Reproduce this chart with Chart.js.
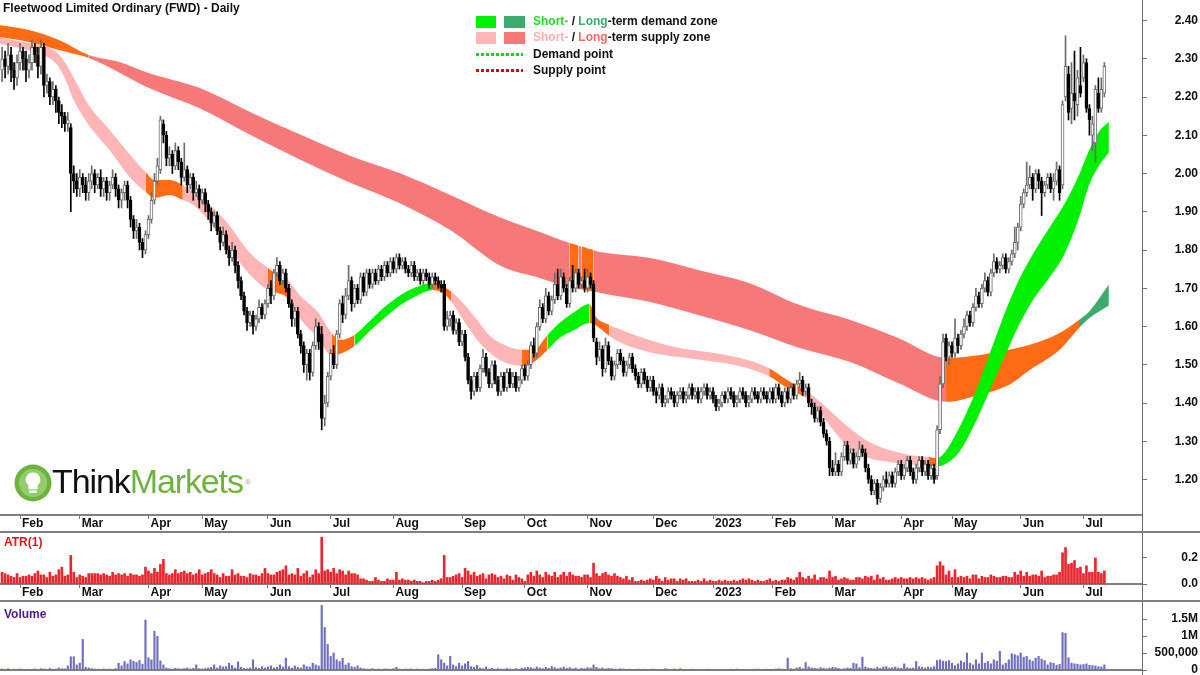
<!DOCTYPE html>
<html><head><meta charset="utf-8">
<script src="https://cdn.jsdelivr.net/npm/chart.js@4.4.1/dist/chart.umd.min.js"></script>
<style>
body{margin:0;background:#fff;width:1200px;height:675px;overflow:hidden;position:relative;font-family:"Liberation Sans",Arial,Helvetica,sans-serif}
canvas{position:absolute;left:0}
.t{position:absolute;font-weight:bold;font-size:12px;line-height:14px;white-space:nowrap;color:#111}
.sq{position:absolute;width:20px;height:12px}
.dot{position:absolute;left:476px;width:47px;height:3px}
</style></head><body>
<canvas id="cMain" width="1200" height="533" style="top:0"></canvas>
<canvas id="cAtr" width="1200" height="69" style="top:533px"></canvas>
<canvas id="cVol" width="1200" height="73" style="top:602px"></canvas>

<div class="t" style="left:3px;top:1px">Fleetwood Limited Ordinary (FWD) - Daily</div>

<div class="sq" style="left:476px;top:16px;background:#00F000"></div>
<div class="sq" style="left:504px;top:16px;width:21px;background:#3DAA6E"></div>
<div class="t" style="left:533px;top:14px"><span style="color:#2BD62B">Short-</span> / <span style="color:#3DAA6E">Long</span>-term demand zone</div>
<div class="sq" style="left:476px;top:32px;background:#FFB6B6"></div>
<div class="sq" style="left:504px;top:32px;width:21px;background:#F77777"></div>
<div class="t" style="left:533px;top:30px"><span style="color:#FFB0B0">Short-</span> / <span style="color:#F06A6A">Long</span>-term supply zone</div>
<div class="dot" style="top:53px;background:repeating-linear-gradient(90deg,#00E000 0 3px,transparent 3px 5px)"></div>
<div class="t" style="left:533px;top:47px">Demand point</div>
<div class="dot" style="top:69px;background:repeating-linear-gradient(90deg,#E00000 0 3px,transparent 3px 5px)"></div>
<div class="t" style="left:533px;top:63px">Supply point</div>

<div class="t" style="left:4px;top:535px;color:#E8101A">ATR(1)</div>
<div class="t" style="left:4px;top:607px;color:#4B1A8A">Volume</div>

<svg width="40" height="40" viewBox="0 0 40 40" style="position:absolute;left:13px;top:463px">
  <circle cx="20" cy="20" r="18.5" fill="#6DB33F"/>
  <circle cx="20" cy="20" r="14" fill="#93CC6A"/>
  <path d="M20 9.5a7.2 7.2 0 0 1 4.6 12.8v4h-9.2v-4A7.2 7.2 0 0 1 20 9.5z" fill="#fff"/>
  <rect x="16" y="27.5" width="8" height="2.5" rx="1" fill="#fff"/>
</svg>
<div style="position:absolute;left:52px;top:464px;font-size:34px;line-height:34px;letter-spacing:-1.1px;color:#111;white-space:nowrap">Think<span style="color:#6DB33F">Markets</span><span style="font-size:8px;vertical-align:top;color:#8aa;letter-spacing:0;position:relative;top:2px;left:2px">®</span></div>

<script>
// ---------- data ----------
const FIRST_DAY = -6; // trading-day index of the first candle (Feb 1 2022 = 0)
const opens = [
2.27,2.30,2.28,2.31,2.27,2.25,2.29,2.32,2.30,2.27,
2.29,2.33,2.31,2.28,2.33,2.23,2.24,2.20,2.22,2.19,
2.16,2.15,2.13,2.12,2.00,1.98,1.96,1.99,1.97,1.95,
1.98,2.00,1.97,1.99,1.96,1.98,1.95,1.97,1.99,1.96,
1.93,1.95,1.97,1.93,1.88,1.85,1.86,1.82,1.80,1.84,
1.88,1.93,1.98,2.01,2.13,2.10,2.04,2.05,2.02,2.06,
2.03,1.99,2.01,1.97,1.99,1.95,1.96,1.93,1.95,1.92,
1.90,1.87,1.89,1.85,1.82,1.84,1.80,1.78,1.80,1.76,
1.72,1.68,1.64,1.61,1.63,1.60,1.62,1.65,1.63,1.66,
1.70,1.68,1.74,1.76,1.72,1.74,1.70,1.66,1.62,1.64,
1.58,1.55,1.50,1.53,1.48,1.55,1.60,1.58,1.36,1.40,
1.47,1.53,1.50,1.58,1.66,1.63,1.68,1.72,1.66,1.70,
1.67,1.73,1.69,1.74,1.71,1.74,1.72,1.75,1.73,1.76,
1.74,1.77,1.75,1.78,1.76,1.77,1.75,1.74,1.76,1.73,
1.74,1.72,1.74,1.73,1.71,1.73,1.72,1.71,1.71,1.60,
1.62,1.63,1.59,1.61,1.56,1.58,1.52,1.46,1.43,1.47,
1.44,1.49,1.52,1.48,1.45,1.50,1.46,1.43,1.47,1.44,
1.48,1.45,1.47,1.44,1.46,1.49,1.47,1.50,1.55,1.53,
1.60,1.65,1.62,1.68,1.64,1.67,1.71,1.68,1.73,1.70,
1.66,1.72,1.70,1.74,1.71,1.72,1.70,1.73,1.71,1.56,
1.52,1.54,1.49,1.55,1.51,1.47,1.50,1.53,1.51,1.48,
1.50,1.52,1.49,1.47,1.45,1.48,1.46,1.44,1.46,1.43,
1.42,1.44,1.40,1.41,1.43,1.42,1.40,1.42,1.43,1.41,
1.42,1.44,1.42,1.43,1.41,1.43,1.44,1.42,1.43,1.41,
1.39,1.40,1.42,1.41,1.43,1.42,1.40,1.41,1.43,1.42,
1.40,1.41,1.43,1.42,1.41,1.43,1.42,1.41,1.43,1.41,
1.44,1.42,1.40,1.43,1.41,1.44,1.42,1.45,1.46,1.43,
1.44,1.40,1.39,1.36,1.38,1.35,1.32,1.30,1.23,1.22,
1.24,1.22,1.26,1.29,1.25,1.27,1.24,1.26,1.28,1.27,
1.23,1.20,1.17,1.19,1.15,1.18,1.20,1.19,1.21,1.19,
1.22,1.24,1.21,1.23,1.25,1.22,1.20,1.23,1.25,1.22,
1.24,1.21,1.23,1.21,1.33,1.45,1.57,1.52,1.55,1.53,
1.57,1.55,1.58,1.60,1.63,1.61,1.65,1.68,1.66,1.70,
1.72,1.69,1.74,1.77,1.75,1.76,1.78,1.75,1.77,1.79,
1.82,1.86,1.92,1.95,1.97,1.99,1.96,2.00,1.98,1.95,
1.97,1.99,1.96,1.98,2.01,1.97,2.20,2.26,2.17,2.21,
2.18,2.23,2.25,2.29,2.17,2.10,2.08,2.21,2.17,2.21];
const highs = [
2.33,2.32,2.34,2.33,2.29,2.31,2.34,2.33,2.32,2.31,
2.35,2.34,2.33,2.35,2.34,2.26,2.25,2.24,2.23,2.20,
2.18,2.16,2.16,2.13,2.02,2.00,2.01,2.00,1.99,2.00,
2.02,2.01,2.00,2.01,1.99,1.99,1.98,2.01,2.00,1.97,
1.96,1.98,1.98,1.94,1.89,1.88,1.87,1.83,1.85,1.89,
1.95,2.00,2.04,2.15,2.14,2.11,2.07,2.06,2.08,2.07,
2.04,2.08,2.02,2.00,2.00,1.98,1.97,1.96,1.96,1.93,
1.91,1.90,1.90,1.86,1.86,1.85,1.81,1.82,1.81,1.77,
1.73,1.69,1.65,1.64,1.64,1.63,1.67,1.66,1.67,1.71,
1.72,1.75,1.78,1.77,1.75,1.75,1.71,1.67,1.65,1.65,
1.59,1.56,1.54,1.54,1.56,1.62,1.61,1.60,1.42,1.48,
1.54,1.55,1.59,1.67,1.68,1.70,1.76,1.73,1.71,1.71,
1.74,1.74,1.75,1.75,1.75,1.75,1.76,1.76,1.77,1.77,
1.78,1.78,1.79,1.79,1.78,1.78,1.76,1.77,1.77,1.75,
1.75,1.75,1.75,1.74,1.74,1.74,1.73,1.72,1.72,1.64,
1.64,1.64,1.62,1.62,1.59,1.59,1.53,1.47,1.48,1.48,
1.50,1.54,1.53,1.49,1.51,1.51,1.47,1.48,1.48,1.49,
1.49,1.48,1.48,1.47,1.50,1.50,1.51,1.56,1.57,1.61,
1.67,1.66,1.70,1.69,1.68,1.74,1.75,1.75,1.74,1.71,
1.73,1.76,1.75,1.75,1.73,1.75,1.75,1.74,1.72,1.57,
1.56,1.55,1.57,1.56,1.52,1.51,1.54,1.54,1.52,1.51,
1.53,1.53,1.50,1.48,1.49,1.49,1.47,1.47,1.47,1.44,
1.45,1.45,1.42,1.44,1.44,1.43,1.43,1.44,1.44,1.43,
1.45,1.45,1.44,1.44,1.44,1.45,1.45,1.44,1.44,1.42,
1.41,1.43,1.43,1.44,1.44,1.43,1.42,1.44,1.44,1.43,
1.42,1.44,1.44,1.43,1.44,1.44,1.43,1.44,1.44,1.45,
1.45,1.43,1.44,1.44,1.45,1.45,1.46,1.48,1.47,1.45,
1.45,1.41,1.40,1.39,1.39,1.36,1.33,1.31,1.25,1.27,
1.25,1.27,1.30,1.30,1.28,1.28,1.27,1.30,1.29,1.28,
1.24,1.21,1.20,1.20,1.19,1.21,1.22,1.22,1.22,1.23,
1.25,1.25,1.24,1.26,1.26,1.23,1.24,1.26,1.26,1.25,
1.25,1.24,1.24,1.34,1.47,1.58,1.58,1.56,1.56,1.62,
1.58,1.59,1.62,1.64,1.64,1.66,1.70,1.69,1.71,1.74,
1.73,1.75,1.79,1.78,1.77,1.79,1.79,1.78,1.80,1.86,
1.87,1.94,1.96,2.03,2.02,2.00,2.01,2.01,1.99,1.98,
2.00,2.00,2.00,2.03,2.02,2.19,2.36,2.28,2.29,2.32,
2.27,2.33,2.31,2.30,2.18,2.15,2.23,2.25,2.25,2.29];
const lows = [
2.24,2.25,2.26,2.24,2.22,2.23,2.27,2.27,2.24,2.25,
2.27,2.29,2.25,2.26,2.20,2.21,2.18,2.18,2.16,2.13,
2.12,2.11,2.11,1.90,1.95,1.94,1.94,1.95,1.93,1.93,
1.96,1.95,1.96,1.94,1.94,1.93,1.93,1.96,1.94,1.91,
1.91,1.93,1.91,1.86,1.83,1.83,1.80,1.78,1.79,1.83,
1.87,1.92,1.97,2.00,2.08,2.02,2.02,2.00,2.01,2.01,
1.97,1.98,1.95,1.96,1.93,1.94,1.91,1.92,1.90,1.88,
1.85,1.86,1.84,1.80,1.81,1.79,1.76,1.77,1.74,1.70,
1.67,1.63,1.59,1.60,1.58,1.59,1.61,1.62,1.62,1.65,
1.66,1.67,1.73,1.71,1.71,1.69,1.65,1.60,1.60,1.57,
1.53,1.48,1.46,1.46,1.47,1.54,1.54,1.33,1.34,1.39,
1.46,1.49,1.49,1.57,1.61,1.62,1.67,1.64,1.65,1.66,
1.66,1.68,1.68,1.70,1.70,1.71,1.71,1.72,1.72,1.73,
1.73,1.74,1.74,1.75,1.75,1.74,1.73,1.73,1.72,1.72,
1.71,1.71,1.72,1.70,1.70,1.71,1.70,1.69,1.59,1.59,
1.60,1.58,1.58,1.55,1.55,1.51,1.45,1.41,1.42,1.43,
1.43,1.48,1.47,1.44,1.44,1.45,1.42,1.42,1.43,1.43,
1.44,1.44,1.43,1.43,1.45,1.46,1.46,1.49,1.52,1.52,
1.59,1.61,1.61,1.63,1.63,1.66,1.67,1.67,1.69,1.65,
1.65,1.69,1.69,1.70,1.70,1.69,1.69,1.70,1.56,1.50,
1.51,1.47,1.48,1.50,1.46,1.46,1.49,1.50,1.47,1.47,
1.49,1.48,1.46,1.44,1.44,1.45,1.43,1.43,1.42,1.40,
1.41,1.39,1.39,1.40,1.41,1.39,1.39,1.41,1.40,1.40,
1.41,1.41,1.41,1.40,1.40,1.42,1.41,1.41,1.40,1.38,
1.38,1.39,1.40,1.40,1.41,1.39,1.39,1.40,1.41,1.39,
1.39,1.40,1.41,1.40,1.40,1.41,1.40,1.40,1.40,1.40,
1.41,1.39,1.39,1.40,1.40,1.41,1.41,1.44,1.42,1.42,
1.39,1.37,1.35,1.35,1.34,1.31,1.29,1.21,1.21,1.21,
1.21,1.21,1.25,1.24,1.24,1.23,1.23,1.25,1.26,1.22,
1.19,1.16,1.16,1.135,1.14,1.17,1.18,1.18,1.18,1.18,
1.21,1.20,1.20,1.22,1.21,1.19,1.19,1.22,1.21,1.21,
1.20,1.20,1.19,1.20,1.32,1.44,1.51,1.50,1.52,1.52,
1.53,1.54,1.57,1.59,1.60,1.60,1.64,1.65,1.65,1.69,
1.68,1.68,1.73,1.74,1.74,1.75,1.74,1.74,1.76,1.78,
1.80,1.85,1.91,1.94,1.96,1.93,1.95,1.96,1.89,1.94,
1.96,1.95,1.93,1.97,1.93,1.96,2.19,2.14,2.13,2.14,
2.15,2.20,2.24,2.16,2.10,2.06,2.03,2.16,2.16,2.20];
const closes = [
2.30,2.28,2.31,2.27,2.25,2.29,2.32,2.30,2.27,2.29,
2.33,2.31,2.28,2.33,2.23,2.24,2.20,2.22,2.19,2.16,
2.15,2.13,2.14,2.00,1.98,1.96,1.99,1.97,1.95,1.98,
2.00,1.97,1.99,1.96,1.98,1.95,1.97,1.99,1.96,1.93,
1.95,1.97,1.93,1.88,1.85,1.86,1.82,1.80,1.84,1.88,
1.93,1.98,2.02,2.14,2.10,2.04,2.05,2.02,2.06,2.03,
1.99,2.01,1.97,1.99,1.95,1.96,1.93,1.95,1.92,1.90,
1.87,1.89,1.85,1.82,1.84,1.80,1.78,1.80,1.76,1.72,
1.68,1.64,1.61,1.63,1.60,1.62,1.65,1.63,1.66,1.70,
1.68,1.74,1.76,1.72,1.74,1.70,1.66,1.62,1.64,1.58,
1.55,1.50,1.53,1.48,1.55,1.60,1.56,1.36,1.40,1.47,
1.53,1.50,1.58,1.66,1.63,1.68,1.72,1.66,1.70,1.67,
1.73,1.69,1.74,1.71,1.74,1.72,1.75,1.73,1.76,1.74,
1.77,1.75,1.78,1.76,1.77,1.75,1.74,1.76,1.73,1.74,
1.72,1.74,1.73,1.71,1.73,1.72,1.71,1.70,1.60,1.62,
1.63,1.59,1.61,1.56,1.58,1.52,1.46,1.43,1.47,1.44,
1.49,1.52,1.48,1.45,1.50,1.46,1.43,1.47,1.44,1.48,
1.45,1.47,1.44,1.46,1.49,1.47,1.50,1.55,1.53,1.60,
1.65,1.62,1.68,1.64,1.67,1.71,1.68,1.73,1.70,1.66,
1.72,1.70,1.74,1.71,1.72,1.70,1.73,1.71,1.57,1.52,
1.54,1.49,1.55,1.51,1.47,1.50,1.53,1.51,1.48,1.50,
1.52,1.49,1.47,1.45,1.48,1.46,1.44,1.46,1.43,1.42,
1.44,1.40,1.41,1.43,1.42,1.40,1.42,1.43,1.41,1.42,
1.44,1.42,1.43,1.41,1.43,1.44,1.42,1.43,1.41,1.39,
1.40,1.42,1.41,1.43,1.42,1.40,1.41,1.43,1.42,1.40,
1.41,1.43,1.42,1.41,1.43,1.42,1.41,1.43,1.41,1.44,
1.42,1.40,1.43,1.41,1.44,1.42,1.45,1.46,1.43,1.44,
1.40,1.39,1.36,1.38,1.35,1.32,1.30,1.23,1.22,1.24,
1.22,1.26,1.29,1.25,1.27,1.24,1.26,1.28,1.27,1.23,
1.20,1.17,1.19,1.15,1.18,1.20,1.19,1.21,1.19,1.22,
1.24,1.21,1.23,1.25,1.22,1.20,1.23,1.25,1.22,1.24,
1.21,1.23,1.20,1.33,1.45,1.56,1.52,1.55,1.53,1.57,
1.55,1.58,1.60,1.63,1.61,1.65,1.68,1.66,1.70,1.72,
1.69,1.74,1.77,1.75,1.76,1.78,1.75,1.77,1.79,1.82,
1.86,1.92,1.95,1.97,1.99,1.96,2.00,1.98,1.95,1.97,
1.99,1.96,1.98,2.01,1.95,2.18,2.28,2.16,2.21,2.19,
2.25,2.21,2.29,2.17,2.14,2.13,2.22,2.17,2.22,2.28];
const atr = [
0.09,0.08,0.07,0.06,0.05,0.08,0.05,0.06,0.06,0.07,
0.06,0.08,0.10,0.07,0.07,0.05,0.09,0.06,0.07,0.11,
0.13,0.06,0.07,0.22,0.09,0.05,0.07,0.06,0.05,0.08,
0.08,0.08,0.08,0.07,0.08,0.07,0.06,0.09,0.07,0.08,
0.07,0.08,0.06,0.08,0.07,0.07,0.06,0.07,0.13,0.10,
0.08,0.12,0.09,0.15,0.19,0.08,0.07,0.08,0.11,0.08,
0.09,0.10,0.08,0.09,0.07,0.08,0.11,0.07,0.08,0.09,
0.11,0.08,0.07,0.05,0.08,0.06,0.06,0.11,0.07,0.08,
0.06,0.06,0.05,0.08,0.07,0.07,0.06,0.08,0.12,0.08,
0.07,0.07,0.09,0.10,0.11,0.14,0.07,0.08,0.07,0.12,
0.06,0.08,0.10,0.05,0.07,0.11,0.08,0.36,0.10,0.11,
0.09,0.12,0.08,0.11,0.10,0.07,0.10,0.08,0.08,0.07,
0.04,0.04,0.03,0.02,0.02,0.05,0.03,0.02,0.02,0.04,
0.03,0.03,0.09,0.03,0.04,0.03,0.03,0.02,0.03,0.02,
0.02,0.01,0.02,0.02,0.03,0.02,0.03,0.04,0.22,0.05,
0.05,0.06,0.07,0.08,0.05,0.12,0.10,0.07,0.09,0.06,
0.07,0.08,0.04,0.07,0.08,0.07,0.05,0.06,0.04,0.07,
0.06,0.03,0.07,0.05,0.04,0.02,0.07,0.09,0.06,0.10,
0.07,0.05,0.09,0.07,0.06,0.09,0.05,0.07,0.09,0.06,
0.09,0.07,0.06,0.06,0.05,0.07,0.07,0.05,0.16,0.08,
0.06,0.08,0.09,0.07,0.06,0.08,0.06,0.05,0.04,0.06,
0.03,0.05,0.02,0.02,0.03,0.02,0.03,0.04,0.03,0.06,
0.04,0.02,0.05,0.03,0.04,0.04,0.02,0.04,0.03,0.04,
0.02,0.02,0.02,0.03,0.02,0.04,0.02,0.03,0.02,0.02,
0.03,0.02,0.03,0.02,0.02,0.03,0.02,0.03,0.04,0.03,
0.04,0.03,0.02,0.03,0.02,0.02,0.03,0.04,0.02,0.03,
0.02,0.03,0.03,0.05,0.04,0.03,0.05,0.09,0.05,0.04,
0.06,0.04,0.07,0.03,0.05,0.05,0.04,0.10,0.05,0.06,
0.03,0.04,0.05,0.04,0.03,0.03,0.05,0.05,0.04,0.06,
0.05,0.06,0.03,0.07,0.04,0.05,0.03,0.03,0.04,0.05,
0.04,0.05,0.04,0.04,0.05,0.04,0.05,0.04,0.05,0.04,
0.03,0.04,0.05,0.14,0.17,0.14,0.07,0.10,0.05,0.11,
0.05,0.06,0.05,0.06,0.04,0.07,0.07,0.04,0.06,0.05,
0.05,0.07,0.06,0.05,0.05,0.06,0.06,0.05,0.05,0.09,
0.07,0.10,0.06,0.09,0.06,0.07,0.07,0.06,0.10,0.05,
0.06,0.06,0.07,0.07,0.09,0.24,0.28,0.15,0.16,0.18,
0.12,0.13,0.08,0.14,0.09,0.09,0.20,0.09,0.08,0.10];
const volumeK = [
30,20,40,15,25,10,30,20,15,25,
20,35,15,40,30,20,45,25,30,60,
40,35,120,390,390,150,200,900,80,60,
40,30,25,20,35,25,30,20,40,200,
120,250,180,300,260,220,280,170,1470,360,
300,1140,990,270,150,60,40,30,50,40,
30,45,60,35,50,150,40,30,45,60,
80,150,60,120,90,100,200,130,60,240,
80,50,40,60,300,70,50,100,60,90,
120,60,80,150,90,350,100,60,120,80,
60,150,100,90,200,150,120,1900,1250,750,
400,500,300,250,350,150,200,100,80,120,
60,40,30,20,40,25,30,20,35,30,
25,40,80,30,20,30,25,35,20,30,
15,25,20,30,40,50,450,300,200,120,
400,150,100,200,120,180,250,100,80,140,
60,40,90,30,50,20,40,30,25,45,
30,20,40,25,50,60,80,70,40,90,
60,40,80,50,100,70,40,60,90,50,
70,40,60,30,50,40,70,60,150,80,
40,60,30,50,40,30,25,40,30,20,
25,15,20,30,15,25,20,10,30,20,
15,20,40,25,15,30,20,40,15,10,
20,25,15,10,20,15,25,10,20,15,
10,15,20,10,25,15,30,20,15,10,
20,15,25,30,15,20,25,10,20,30,
40,30,20,350,40,30,60,80,40,220,
90,60,50,40,70,50,40,60,80,70,
50,30,40,60,50,200,180,70,380,90,
60,50,40,80,50,90,100,60,70,90,
60,50,180,70,50,60,250,100,80,60,
90,70,100,280,300,260,250,280,200,130,
180,270,220,500,200,150,300,180,500,200,
250,180,300,260,550,150,200,300,480,450,
420,500,380,400,300,260,350,400,320,280,
150,220,200,140,170,1100,1080,360,200,180,
170,150,160,180,140,130,120,100,90,150];

// month axis (trading-day index of first session of each month)
const monthIdx = [0,20,43,61,83,104,125,148,169,190,212,232,252,272,295,312,335,356];
const monthLabels = ['Feb','Mar','Apr','May','Jun','Jul','Aug','Sep','Oct','Nov','Dec','2023','Feb','Mar','Apr','May','Jun','Jul'];
const priceTicks = [1.2,1.3,1.4,1.5,1.6,1.7,1.8,1.9,2.0,2.1,2.2,2.3,2.4];
const atrTicks = [0,0.2];
const atrTickLabels = ['0.0','0.2'];
const volTicksK = [0,500,1000,1500];
const volTickLabels = ['0','500,000','1M','1.5M'];

// long-term zone (upper / lower edge, state: s=supply, o=transition, dg=demand)
const ltX     = [-7,3,13,23,33,43,60,77,94,110,127,144,161,174,184,185,186,187,188,189,190,191,192,193,194,211,227,244,261,278,294,310,321,331,338,348,354.5,358,364.5];
const ltUpper = [2.388,2.375,2.349,2.310,2.292,2.263,2.224,2.161,2.101,2.048,2.001,1.944,1.884,1.847,1.818,1.816,1.814,1.811,1.809,1.807,1.804,1.802,1.800,1.797,1.795,1.779,1.748,1.714,1.656,1.617,1.570,1.518,1.525,1.539,1.552,1.583,1.617,1.640,1.710];
const ltLower = [2.357,2.344,2.323,2.302,2.265,2.224,2.171,2.101,2.035,1.978,1.923,1.852,1.758,1.727,1.703,1.702,1.700,1.699,1.697,1.696,1.694,1.693,1.691,1.690,1.688,1.664,1.630,1.591,1.544,1.507,1.452,1.403,1.421,1.447,1.486,1.539,1.596,1.622,1.655];
const ltState = ['o','o','o','o','s','s','s','s','s','s','s','s','s','s','s','o','o','o','s','o','o','o','o','s','s','s','s','s','s','s','s','s','o','o','o','o','o','dg','dg'];

// short-term zone (state: p=supply, o=transition, g=demand)
const stX     = [-7,0,7,12,15,18,23,30,37,42,45,50,54.5,58,63.5,70,77,83,85,89.6,93.6,99.7,104.3,107,112,116.4,122,127,132,138,141,144.5,148,152.5,157,162,168,172,176.6,180.6,185.6,190.6,192.6,197.3,201.3,210.7,220.7,230.8,240.8,250.8,255.9,262.5,265.9,270.9,277.6,284.3,291,297.7,304.3,307,309.7,314.4,319.4,324.4,329.4,334.4,339.5,344.5,349.5,354.5,357.9,361.2,364.5];
const stUpper = [2.357,2.345,2.335,2.318,2.291,2.250,2.179,2.114,2.048,2.004,1.983,1.983,1.970,1.952,1.918,1.865,1.792,1.753,1.742,1.722,1.682,1.638,1.583,1.565,1.578,1.609,1.651,1.680,1.701,1.714,1.708,1.690,1.664,1.622,1.578,1.552,1.539,1.539,1.578,1.609,1.638,1.659,1.627,1.604,1.591,1.565,1.544,1.533,1.518,1.491,1.465,1.434,1.416,1.382,1.335,1.298,1.277,1.264,1.259,1.256,1.272,1.335,1.421,1.525,1.630,1.722,1.795,1.857,1.918,1.996,2.061,2.109,2.135];
const stLower = [2.340,2.328,2.312,2.288,2.250,2.192,2.127,2.061,1.988,1.952,1.936,1.944,1.931,1.918,1.873,1.805,1.735,1.695,1.690,1.674,1.622,1.570,1.525,1.528,1.549,1.583,1.622,1.654,1.677,1.695,1.690,1.664,1.622,1.570,1.533,1.507,1.497,1.507,1.539,1.570,1.591,1.609,1.604,1.575,1.557,1.533,1.520,1.510,1.497,1.470,1.444,1.416,1.395,1.343,1.282,1.256,1.246,1.240,1.235,1.235,1.240,1.272,1.342,1.429,1.518,1.604,1.674,1.727,1.787,1.884,1.970,2.020,2.054];
const stState = ['p','p','p','p','p','p','p','p','p','p','o','o','o','p','p','p','p','p','o','o','p','p','p','o','o','g','g','g','g','g','o','o','p','p','p','p','p','o','o','g','g','g','o','o','p','p','p','p','p','p','o','o','p','p','p','p','p','p','p','o','g','g','g','g','g','g','g','g','g','g','g','g','g'];

// ---------- styling ----------
const X_MIN = -6.7, X_MAX = 375.6;
const ZONE = {p:'#FFB5B5', s:'#F77878', o:'#FF6A14', g:'#00F000', dg:'#3DAA6E'};
const AXIS_GRAY = '#808080';

Chart.defaults.font.family = '"Liberation Sans", Arial, Helvetica, sans-serif';
Chart.defaults.font.size = 12;
Chart.defaults.font.weight = 'bold';
Chart.defaults.color = '#111';

const dayIdx = closes.map((_, i) => FIRST_DAY + i);
const isUp = i => closes[i] >= opens[i];

const framePlugin = {
  id: 'frame',
  afterDraw(chart, args, opts) {
    const {ctx, chartArea: a} = chart;
    ctx.save();
    ctx.strokeStyle = '#6a6a6a'; ctx.lineWidth = 1;
    ctx.beginPath(); ctx.moveTo(a.right + 0.5, 0); ctx.lineTo(a.right + 0.5, chart.height); ctx.stroke();
    if (opts && opts.bottomLine) {
      ctx.strokeStyle = AXIS_GRAY; ctx.lineWidth = 2;
      ctx.beginPath(); ctx.moveTo(0, chart.height - 1); ctx.lineTo(chart.width, chart.height - 1); ctx.stroke();
    }
    ctx.restore();
  }
};

function xAxis(showLabels) {
  return {
    type: 'linear', position: 'bottom', min: X_MIN, max: X_MAX, offset: false,
    afterBuildTicks: s => { s.ticks = monthIdx.map(v => ({value: v})); },
    afterFit: s => { s.height = showLabels ? 18 : 5; s.paddingLeft = 0; s.paddingRight = 0; },
    ticks: { display: showLabels, autoSkip: false, maxRotation: 0, minRotation: 0, align: 'start',
             labelOffset: 2, padding: -3, callback: (v, i) => monthLabels[i], color: '#111',
             font: {size: 12, weight: 'bold'} },
    grid: { display: showLabels, offset: false, drawOnChartArea: false, drawTicks: true, tickLength: 4, color: '#777' },
    border: { display: true, color: AXIS_GRAY, width: 2 }
  };
}
function yAxis(min, max, vals, labels) {
  return {
    type: 'linear', position: 'right', min, max,
    afterBuildTicks: s => { s.ticks = vals.map(v => ({value: v})); },
    afterFit: s => { s.width = 56; s.paddingTop = 0; s.paddingBottom = 0; },
    ticks: { autoSkip: false, crossAlign: 'far', padding: 4, callback: (v, i) => labels[i], color: '#111',
             font: {size: 12, weight: 'bold'} },
    grid: { offset: false, drawOnChartArea: false, drawTicks: true, tickLength: 5, color: '#777' },
    border: { display: false }
  };
}
function baseOptions(scales, frameOpts, padBottom) {
  return {
    responsive: false, animation: false, devicePixelRatio: 1, events: [],
    layout: { padding: {left: 0, right: 2, top: 0, bottom: padBottom || 0} },
    plugins: { legend: {display: false}, tooltip: {enabled: false}, frame: frameOpts },
    scales
  };
}
function bandDatasets(xs, upper, lower, state, order) {
  return [
    { type: 'line', data: xs.map((x, i) => ({x, y: upper[i]})), borderWidth: 0, pointRadius: 0,
      fill: false, order, cubicInterpolationMode: 'monotone' },
    { type: 'line', data: xs.map((x, i) => ({x, y: lower[i]})), borderWidth: 0, pointRadius: 0,
      fill: '-1', order, cubicInterpolationMode: 'monotone', backgroundColor: ZONE[state[1]],
      segment: { backgroundColor: c => ZONE[state[c.p1DataIndex]] } }
  ];
}

// ---------- main price panel ----------
new Chart(document.getElementById('cMain'), {
  type: 'bar',
  data: { datasets: [
    { label: 'body', data: dayIdx.map((x, i) => ({x, y: [opens[i], closes[i]]})), grouped: false, order: 0,
      barThickness: 3, minBarLength: 1, borderSkipped: false,
      backgroundColor: c => isUp(c.dataIndex) ? '#ffffff' : '#000000',
      borderColor: c => isUp(c.dataIndex) ? '#6c6c6c' : '#000000', borderWidth: 1 },
    { label: 'wick', data: dayIdx.map((x, i) => ({x, y: [lows[i], highs[i]]})), grouped: false, order: 1,
      barThickness: 1, borderWidth: 0,
      backgroundColor: c => isUp(c.dataIndex) ? '#6c6c6c' : '#000000' },
    ...bandDatasets(stX, stUpper, stLower, stState, 2),
    ...bandDatasets(ltX, ltUpper, ltLower, ltState, 3)
  ]},
  options: baseOptions({ x: xAxis(true), y: yAxis(1.1072, 2.4536, priceTicks, priceTicks.map(v => v.toFixed(2))) },
                       {bottomLine: true}),
  plugins: [framePlugin]
});

// ---------- ATR panel ----------
new Chart(document.getElementById('cAtr'), {
  type: 'bar',
  data: { datasets: [
    { data: dayIdx.map((x, i) => ({x, y: atr[i]})), backgroundColor: '#E8262D', barThickness: 2, borderWidth: 0 }
  ]},
  options: baseOptions({ x: xAxis(true), y: yAxis(0, 0.392, atrTicks, atrTickLabels) }, {bottomLine: true}),
  plugins: [framePlugin]
});

// ---------- Volume panel ----------
new Chart(document.getElementById('cVol'), {
  type: 'bar',
  data: { datasets: [
    { data: dayIdx.map((x, i) => ({x, y: volumeK[i]})), backgroundColor: '#6F6FBF', barThickness: 1.5, borderWidth: 0 }
  ]},
  options: baseOptions({ x: xAxis(false), y: yAxis(0, 2000, volTicksK, volTickLabels) }, {bottomLine: false}),
  plugins: [framePlugin]
});
</script>
</body></html>
